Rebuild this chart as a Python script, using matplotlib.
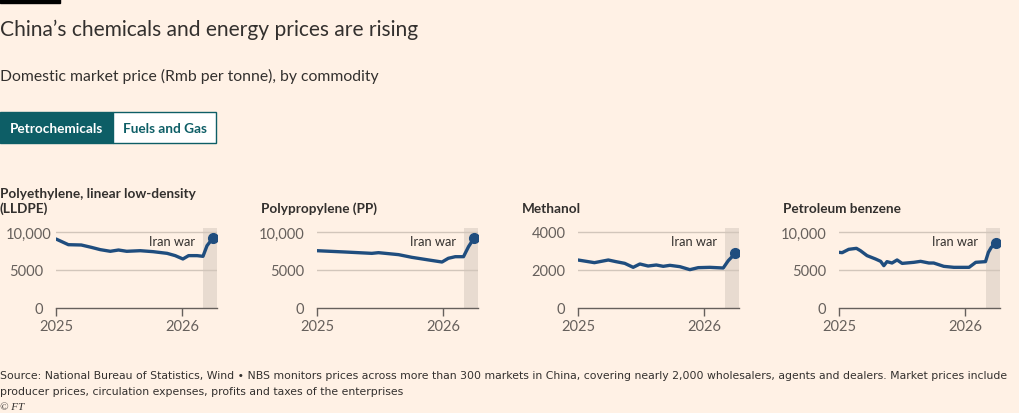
import matplotlib
matplotlib.use("Agg")
import matplotlib.pyplot as plt
from matplotlib.patches import Rectangle
from matplotlib.transforms import ScaledTranslation

plt.rcParams['font.family'] = ['Lato', 'DejaVu Sans']

# 数据: 年份小数 (0 = 2025年1月1日)
lldpe_t = [0, 0.098, 0.20, 0.28, 0.35, 0.43, 0.495, 0.56, 0.667, 0.77, 0.88, 0.944,
           1.005, 1.05, 1.117, 1.164, 1.196, 1.243]
lldpe_v = [9080, 8330, 8290, 7980, 7680, 7460, 7630, 7460, 7540, 7410, 7190, 6890,
           6450, 6890, 6890, 6800, 8200, 9210]

pp_t = [0, 0.22, 0.434, 0.487, 0.646, 0.75, 0.884, 0.99, 1.04, 1.095, 1.16, 1.20, 1.244]
pp_v = [7540, 7370, 7190, 7280, 7020, 6670, 6320, 6050, 6540, 6750, 6750, 8070, 9210]

meth_t = [0, 0.13, 0.24, 0.30, 0.37, 0.437, 0.49, 0.555, 0.62, 0.675, 0.728, 0.807,
          0.886, 0.952, 1.045, 1.15, 1.19, 1.246]
meth_v = [2526, 2386, 2526, 2440, 2350, 2140, 2316, 2210, 2263, 2193, 2245, 2175,
          2018, 2123, 2140, 2105, 2491, 2877]

benz_t = [0, 0.025, 0.077, 0.138, 0.17, 0.222, 0.289, 0.33, 0.355, 0.38, 0.42, 0.46,
          0.5, 0.593, 0.646, 0.712, 0.75, 0.83, 0.91, 1.03, 1.083, 1.16, 1.183, 1.206, 1.244]
benz_v = [7325, 7280, 7720, 7850, 7540, 6890, 6450, 6140, 5570, 6100, 5920, 6320,
          5870, 6010, 6140, 5920, 5920, 5480, 5350, 5350, 6010, 6100, 7325, 7980, 8550]

titles = ['Polyethylene, linear low-density\n(LLDPE)', 'Polypropylene (PP)',
          'Methanol', 'Petroleum benzene']
series = [(lldpe_t, lldpe_v), (pp_t, pp_v), (meth_t, meth_v), (benz_t, benz_v)]
yticks = [[0, 5000, 10000], [0, 5000, 10000], [0, 2000, 4000], [0, 5000, 10000]]
ytick_labels = [['0', '5000', '10,000'], ['0', '5000', '10,000'],
                ['0', '2000', '4000'], ['0', '5000', '10,000']]
ytops = [10526, 10526, 4210, 10526]
xticks = [0, 1]
xtick_labels = ['2025', '2026']
war_start = 1.163
x_end = 1.275

BG = '#fff1e5'
LINE = '#1f4d7e'
TEAL = '#0d5e66'
TEXT = '#33302e'
GREY = '#66605c'

W, H = 1020, 414
fig = plt.figure(figsize=(W / 100, H / 100), dpi=100, facecolor=BG)


def fx(px):
    return px / W


def fy(py):
    return 1 - py / H


# 顶部黑条
fig.patches.append(Rectangle((0, fy(4)), fx(60), 4 / H, transform=fig.transFigure,
                             color='#000000', zorder=5))

fig.text(0, fy(36), 'China’s chemicals and energy prices are rising', fontsize=15.1,
         color=TEXT, va='baseline', ha='left')
fig.text(0, fy(81), 'Domestic market price (Rmb per tonne), by commodity', fontsize=11.3,
         color=TEXT, va='baseline', ha='left')

# 切换按钮
fig.patches.append(Rectangle((0, fy(144)), fx(113), 31 / H, transform=fig.transFigure,
                             facecolor=TEAL, edgecolor=TEAL, lw=1))
fig.patches.append(Rectangle((fx(113), fy(144)), fx(103), 31 / H, transform=fig.transFigure,
                             facecolor='#ffffff', edgecolor=TEAL, lw=1))
fig.text(fx(56.5), fy(129), 'Petrochemicals', fontsize=9.8, fontweight='bold',
         color='#ffffff', ha='center', va='center')
fig.text(fx(164.5), fy(129), 'Fuels and Gas', fontsize=9.8, fontweight='bold',
         color=TEAL, ha='center', va='center')

lefts = [56, 317, 578, 839]
for i, (left, (t, v)) in enumerate(zip(lefts, series)):
    ax = fig.add_axes([fx(left), fy(309), fx(161), 80 / H])
    ax.set_facecolor('none')
    ax.set_xlim(0, x_end)
    ax.set_ylim(0, ytops[i])
    ax.axvspan(war_start, x_end, color='#e8dbd0', lw=0, zorder=0)
    for yv in yticks[i][1:]:
        ax.axhline(yv, color='#d2c6bb', lw=1, zorder=1)
    ax.plot(t, v, color=LINE, lw=2.4, solid_capstyle='round', solid_joinstyle='round', zorder=3)
    ax.plot(t[-1], v[-1], 'o', color=LINE, ms=7, zorder=4)
    for s in ['top', 'right', 'left']:
        ax.spines[s].set_visible(False)
    ax.spines['bottom'].set_color(GREY)
    ax.spines['bottom'].set_linewidth(1)
    ax.set_xticks(xticks)
    ax.set_xticklabels(xtick_labels)
    ax.set_yticks(yticks[i])
    ax.set_yticklabels(ytick_labels[i])
    ax.tick_params(axis='x', length=6, width=1, color=GREY, labelsize=10.5,
                   labelcolor=GREY, pad=2)
    ax.tick_params(axis='y', length=0, labelsize=10.5, labelcolor=GREY, pad=9)
    if i == 0:
        # 第一个面板的 10,000 贴着左边
        top_lbl = ax.get_yticklabels()[-1]
        top_lbl.set_transform(top_lbl.get_transform() +
                              ScaledTranslation(0.08, 0, fig.dpi_scale_trans))
    ax.text(war_start - 0.06, 0.84, 'Iran war', transform=ax.get_xaxis_transform(),
            fontsize=9.3, color=TEXT, ha='right', va='center', zorder=5)
    fig.text(fx(left - 56), fy(213), titles[i], fontsize=9.8, fontweight='bold',
             color=TEXT, ha='left', va='baseline', linespacing=1.2)

foot = ['Liberation Sans Narrow', 'DejaVu Sans']
fig.text(0, fy(379), 'Source: National Bureau of Statistics, Wind • NBS monitors prices across more '
         'than 300 markets in China, covering nearly 2,000 wholesalers, agents and dealers. '
         'Market prices include', fontsize=7.8, color=TEXT, family=foot, va='baseline')
fig.text(0, fy(395), 'producer prices, circulation expenses, profits and taxes of the enterprises',
         fontsize=7.8, color=TEXT, family=foot, va='baseline')
fig.text(0, fy(410), '© FT', fontsize=8, color=TEXT, family=['Liberation Serif', 'DejaVu Serif'],
         style='italic', va='baseline')

fig.savefig('out.png', dpi=100, facecolor=BG)
